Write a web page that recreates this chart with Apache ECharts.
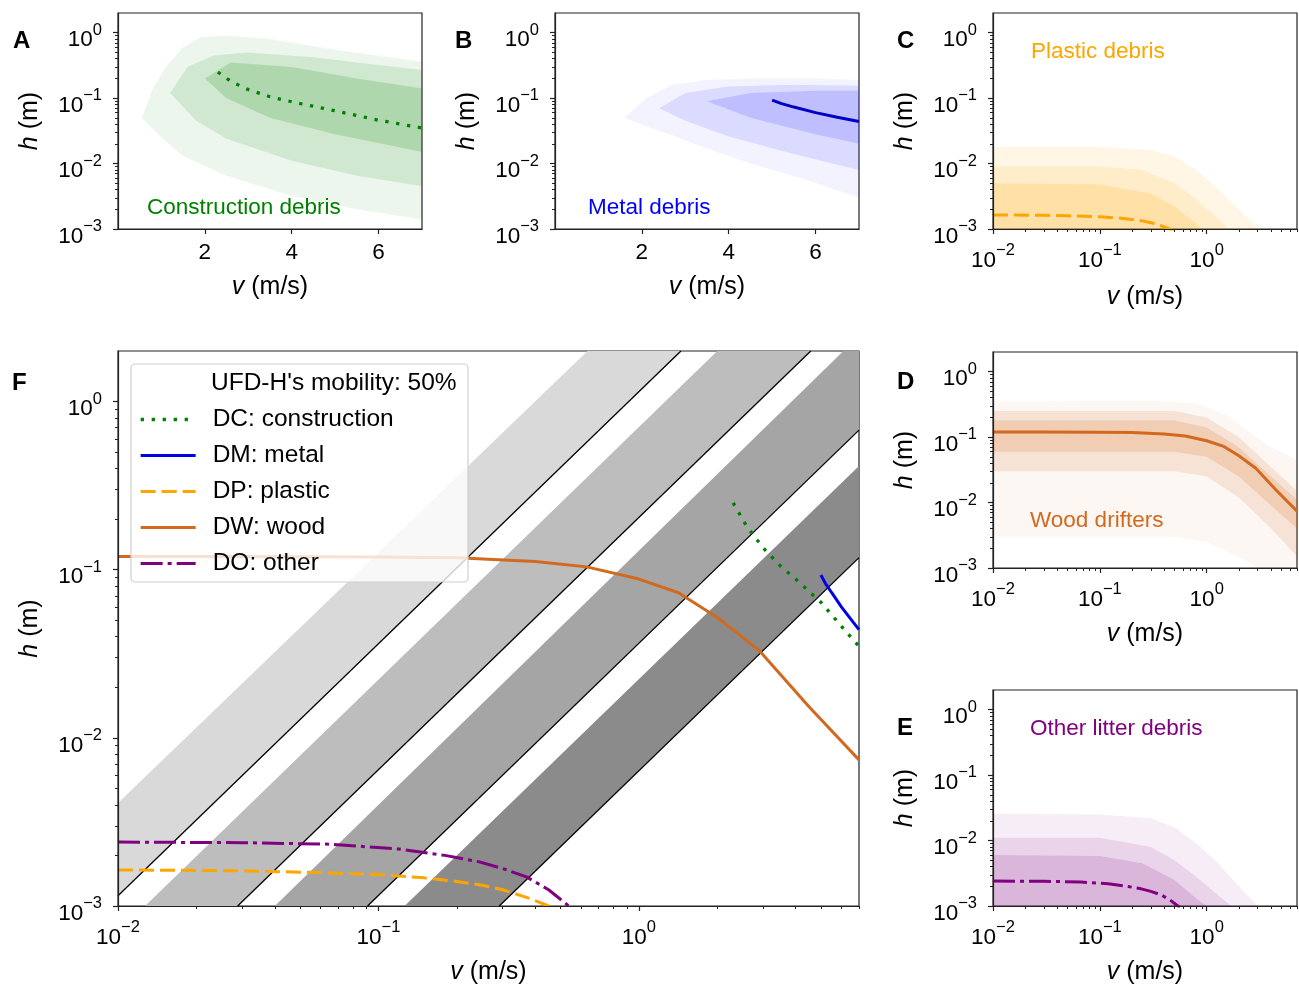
<!DOCTYPE html>
<html>
<head>
<meta charset="utf-8">
<script src="https://cdn.jsdelivr.net/npm/echarts@6.0.0/dist/echarts.min.js"></script>
<style>
  html, body { margin: 0; padding: 0; background: #fff; }
  #main { width: 1299px; height: 985px; }
</style>
</head>
<body>
<div id="main"></div>
<script>
const FONT = "'Liberation Sans', Arial, Helvetica, sans-serif";

// tick values
const logXMajor = [0.01, 0.1, 1];
const logXMinor = [0.02, 0.03, 0.04, 0.05, 0.06, 0.07, 0.08, 0.09,
  0.2, 0.3, 0.4, 0.5, 0.6, 0.7, 0.8, 0.9, 2, 3, 4, 5, 6, 7];
const logYMajor = [0.001, 0.01, 0.1, 1];
const logYMinor = [0.002, 0.003, 0.004, 0.005, 0.006, 0.007, 0.008, 0.009,
  0.02, 0.03, 0.04, 0.05, 0.06, 0.07, 0.08, 0.09,
  0.2, 0.3, 0.4, 0.5, 0.6, 0.7, 0.8, 0.9];
const linXMajor = [2, 4, 6];

// median curves [v (m/s), h (m)]
const dcCurve = [[2.3, 0.25], [2.6, 0.18], [3.0, 0.135], [3.5, 0.105], [4.0, 0.088],
  [5.0, 0.064], [6.0, 0.046], [7.0, 0.035]];
const dmCurve = [[5.0, 0.093], [5.2, 0.083], [5.5, 0.073], [6.0, 0.060], [6.5, 0.051], [7.0, 0.044]];
const dpCurve = [[0.01, 1.64e-3], [0.03, 1.62e-3], [0.05, 1.59e-3], [0.1, 1.54e-3], [0.15, 1.47e-3],
  [0.2, 1.4e-3], [0.25, 1.33e-3], [0.3, 1.25e-3], [0.38, 1.11e-3], [0.45, 1.0e-3], [0.5, 0.93e-3]];
const dwCurve = [[0.01, 0.12], [0.03, 0.12], [0.1, 0.119], [0.2, 0.118], [0.4, 0.112], [0.63, 0.104],
  [1.0, 0.088], [1.42, 0.073], [2.0, 0.052], [2.88, 0.0334], [4.5, 0.0153], [7.0, 0.0074]];
const doCurve = [[0.01, 2.4e-3], [0.03, 2.38e-3], [0.066, 2.33e-3], [0.12, 2.18e-3], [0.18, 2.0e-3],
  [0.244, 1.83e-3], [0.3, 1.67e-3], [0.37, 1.49e-3], [0.45, 1.25e-3], [0.53, 1.02e-3], [0.56, 0.95e-3]];

// ensemble envelopes per panel: [upper, lower] for outer, middle, core
const fanA = [
  [[[0.55, 0.05], [0.8, 0.14], [1.1, 0.3], [1.5, 0.6], [1.9, 0.85], [2.5, 0.9], [3.5, 0.8], [5, 0.55], [7, 0.36]],
   [[0.55, 0.05], [1.0, 0.025], [1.5, 0.013], [2.5, 0.0065], [4, 0.0032], [5.5, 0.002], [7, 0.0014]]],
  [[[1.2, 0.12], [1.6, 0.3], [2.2, 0.45], [3, 0.5], [4.5, 0.42], [6, 0.32], [7, 0.27]],
   [[1.2, 0.12], [1.8, 0.045], [2.5, 0.024], [4, 0.011], [5.5, 0.0065], [7, 0.0045]]],
  [[[2.0, 0.2], [2.6, 0.35], [4, 0.3], [5.5, 0.2], [7, 0.14]],
   [[2.0, 0.2], [2.5, 0.1], [3.5, 0.05], [5, 0.028], [7, 0.015]]]
];
const fanB = [
  [[[1.6, 0.05], [2.1, 0.1], [2.7, 0.16], [3.5, 0.19], [4.5, 0.2], [6, 0.2], [7, 0.19]],
   [[1.6, 0.05], [2.2, 0.035], [2.7, 0.027], [3.5, 0.017], [4.5, 0.01], [5.8, 0.0056], [7, 0.003]]],
  [[[2.4, 0.07], [3, 0.12], [4, 0.15], [5.5, 0.16], [7, 0.155]],
   [[2.4, 0.07], [3, 0.045], [4, 0.026], [5.5, 0.014], [7, 0.008]]],
  [[[3.5, 0.09], [4.5, 0.12], [6, 0.13], [7, 0.13]],
   [[3.5, 0.09], [4.5, 0.05], [6, 0.028], [7, 0.02]]]
];
const fanC = [
  [[[0.01, 0.018], [0.1, 0.018], [0.3, 0.016], [0.5, 0.013], [0.8, 0.008], [1.2, 0.0045], [2, 0.002], [3.1, 0.001]],
   [[0.01, 0.001], [3.1, 0.001]]],
  [[[0.01, 0.009], [0.1, 0.009], [0.25, 0.008], [0.5, 0.005], [0.8, 0.0028], [1.2, 0.0016], [1.6, 0.001]],
   [[0.01, 0.001], [1.6, 0.001]]],
  [[[0.01, 0.005], [0.1, 0.0048], [0.3, 0.0035], [0.5, 0.0022], [0.8, 0.0012], [0.9, 0.001]],
   [[0.01, 0.001], [0.9, 0.001]]]
];
const fanD = [
  [[[0.01, 0.35], [0.3, 0.36], [0.8, 0.33], [1.5, 0.22], [2.5, 0.12], [4, 0.07], [7, 0.045]],
   [[0.01, 0.003], [0.5, 0.003], [1, 0.0025], [2, 0.0015], [3, 0.001], [7, 0.001]]],
  [[[0.01, 0.25], [0.5, 0.25], [1, 0.2], [2, 0.1], [4, 0.035], [7, 0.015]],
   [[0.01, 0.03], [0.5, 0.03], [1, 0.025], [2, 0.012], [4, 0.004], [7, 0.0015]]],
  [[[0.01, 0.18], [0.5, 0.18], [1, 0.14], [2, 0.07], [4, 0.025], [7, 0.011]],
   [[0.01, 0.06], [0.5, 0.06], [1, 0.05], [2, 0.025], [4, 0.009], [7, 0.004]]]
];
const fanE = [
  [[[0.01, 0.026], [0.1, 0.025], [0.3, 0.022], [0.5, 0.016], [0.8, 0.009], [1.2, 0.005], [2, 0.002], [3, 0.001]],
   [[0.01, 0.001], [3, 0.001]]],
  [[[0.01, 0.011], [0.1, 0.011], [0.3, 0.008], [0.5, 0.005], [0.8, 0.0028], [1.2, 0.0016], [1.7, 0.001]],
   [[0.01, 0.001], [1.7, 0.001]]],
  [[[0.01, 0.006], [0.1, 0.0058], [0.25, 0.0045], [0.5, 0.0025], [0.8, 0.0013], [1.0, 0.001]],
   [[0.01, 0.001], [1.0, 0.001]]]
];

// panel F mobility bands (grey) and their black lower edges
const bandPolys = [
  [[0.01, 4.1e-3], [0.635, 2], [1.45, 2], [0.01, 1.15e-3]],
  [[0.0127, 1e-3], [2.0, 2], [4.57, 2], [0.0288, 1e-3]],
  [[0.040, 1e-3], [6.1, 2], [7, 2], [7, 0.677], [0.0908, 1e-3]],
  [[0.126, 1e-3], [7, 0.414], [7, 0.118], [0.291, 1e-3]]
];
const bandColors = ['#d9d9d9', '#bdbdbd', '#a5a5a5', '#8b8b8b'];
const bandLines = [
  [[0.01, 1.15e-3], [1.45, 2]],
  [[0.0288, 1e-3], [4.57, 2]],
  [[0.0908, 1e-3], [7, 0.677]],
  [[0.291, 1e-3], [7, 0.118]]
];

const COL = { dc: '#008000', dm: '#0000e6', dp: '#ffa500', dw: '#d2691e', do: '#800080' };

function pow10Label(v) {
  const e = Math.round(Math.log10(v));
  return '{b|10}{s|' + (e < 0 ? '\u2212' + (-e) : e) + '}';
}
const supRich = {
  b: { fontFamily: FONT, fontSize: 22.5, color: '#000', padding: [7, 0, 0, 0] },
  s: { fontFamily: FONT, fontSize: 16.5, color: '#000', verticalAlign: 'top' }
};
const nameStyle = {
  fontFamily: FONT, fontSize: 25, color: '#000',
  rich: { i: { fontFamily: FONT, fontSize: 25, fontStyle: 'italic', color: '#000' } }
};
const lineAx = { show: true, lineStyle: { color: '#222', width: 1.2 } };

const gridRects = [
  { left: 118, top: 13, width: 304, height: 216 },   // A
  { left: 555, top: 13, width: 304, height: 216 },   // B
  { left: 993, top: 13, width: 304, height: 216 },   // C
  { left: 993, top: 352, width: 304, height: 216 },  // D
  { left: 993, top: 690, width: 304, height: 216 },  // E
  { left: 118, top: 351, width: 741, height: 555 }   // F
];
const xGaps = [46, 46, 56, 54, 54, 54];

const grid = gridRects.map(r => Object.assign({
  show: true, borderColor: '#222', borderWidth: 1.2, backgroundColor: 'rgba(0,0,0,0)',
  containLabel: false, outerBoundsMode: 'none'
}, r));

const xAxis = [];
const yAxis = [];
gridRects.forEach((r, gi) => {
  const lin = gi < 2;
  xAxis.push({
    type: lin ? 'value' : 'log', logBase: 10, gridIndex: gi, position: 'bottom',
    min: lin ? 0 : 0.01, max: 7, z: 10,
    axisLine: lineAx, splitLine: { show: false },
    axisTick: { show: true, length: 5, lineStyle: { color: '#222', width: 1.2 },
      customValues: lin ? linXMajor : logXMajor },
    axisLabel: lin
      ? { customValues: linXMajor, fontFamily: FONT, fontSize: 22.5, color: '#000', margin: 12 }
      : { customValues: logXMajor, formatter: pow10Label, rich: supRich, margin: 13 },
    name: '{i|v} (m/s)', nameLocation: 'middle', nameGap: xGaps[gi],
    nameTextStyle: nameStyle, nameMoveOverlap: false
  });
  yAxis.push({
    type: 'log', logBase: 10, gridIndex: gi, position: 'left', min: 0.001, max: 2, z: 10,
    axisLine: lineAx, splitLine: { show: false },
    axisTick: { show: true, length: 5, lineStyle: { color: '#222', width: 1.2 }, customValues: logYMajor },
    axisLabel: { customValues: logYMajor, formatter: pow10Label, rich: supRich, margin: 16, padding: [8, 0, 0, 0] },
    name: '{i|h} (m)', nameLocation: 'middle', nameRotate: 90, nameGap: 75,
    nameTextStyle: nameStyle, nameMoveOverlap: false
  });
});
// minor tick axes
gridRects.forEach((r, gi) => {
  if (gi >= 2) {
    xAxis.push({
      type: 'log', logBase: 10, gridIndex: gi, position: 'bottom', min: 0.01, max: 7, z: 10,
      axisLine: { show: false }, splitLine: { show: false }, axisLabel: { show: false },
      axisTick: { show: true, length: 3, lineStyle: { color: '#222', width: 1 }, customValues: logXMinor }
    });
  }
  yAxis.push({
    type: 'log', logBase: 10, gridIndex: gi, position: 'left', min: 0.001, max: 2, z: 10,
    axisLine: { show: false }, splitLine: { show: false }, axisLabel: { show: false },
    axisTick: { show: true, length: 3, lineStyle: { color: '#222', width: 1 }, customValues: logYMinor }
  });
});

function polySeries(gi, pts, fill, z) {
  return {
    type: 'custom', xAxisIndex: gi, yAxisIndex: gi, data: pts, clip: true, silent: true, z: z,
    renderItem: function (params, api) {
      if (params.dataIndex !== 0) return null;
      return { type: 'polygon', shape: { points: pts.map(p => api.coord(p)) }, style: { fill: fill } };
    }
  };
}
function fanSeries(gi, fan, rgb, alphas) {
  return fan.map((f, k) => polySeries(gi, f[0].concat(f[1].slice().reverse()),
    'rgba(' + rgb + ',' + alphas[k] + ')', 1));
}
function curve(gi, name, data, color, width, type) {
  return {
    type: 'line', name: name, xAxisIndex: gi, yAxisIndex: gi, data: data,
    symbol: 'none', showSymbol: false, silent: true, clip: true, z: 4,
    lineStyle: { color: color, width: width, type: type }, itemStyle: { color: color }
  };
}
const DOTTED = [3.3, 7.7], DASHED = [15, 6], DASHDOT = [22, 5, 4, 5];

const series = [].concat(
  fanSeries(0, fanA, '0,128,0', [0.07, 0.12, 0.16]),
  [curve(0, 'A DC', dcCurve, COL.dc, 3.3, DOTTED)],
  fanSeries(1, fanB, '50,50,255', [0.06, 0.12, 0.16]),
  [curve(1, 'B DM', dmCurve, '#0000c8', 3, 'solid')],
  fanSeries(2, fanC, '255,165,0', [0.1, 0.12, 0.16]),
  [curve(2, 'C DP', dpCurve, COL.dp, 3, DASHED)],
  fanSeries(3, fanD, '210,105,30', [0.05, 0.14, 0.18]),
  [curve(3, 'D DW', dwCurve, COL.dw, 3, 'solid')],
  fanSeries(4, fanE, '128,0,128', [0.07, 0.1, 0.14]),
  [curve(4, 'E DO', doCurve, COL.do, 3, DASHDOT)],
  bandPolys.map((p, k) => polySeries(5, p, bandColors[k], 1)),
  bandLines.map(l => ({
    type: 'line', xAxisIndex: 5, yAxisIndex: 5, data: l, symbol: 'none', silent: true, z: 3,
    lineStyle: { color: '#000', width: 1.3 }
  })),
  [
    curve(5, 'DC: construction', dcCurve, COL.dc, 3.3, DOTTED),
    curve(5, 'DM: metal', dmCurve, COL.dm, 3, 'solid'),
    curve(5, 'DP: plastic', dpCurve, COL.dp, 3, DASHED),
    curve(5, 'DW: wood', dwCurve, COL.dw, 3, 'solid'),
    curve(5, 'DO: other', doCurve, COL.do, 3, DASHDOT)
  ]
);

function txt(x, y, s, size, color, bold) {
  return {
    type: 'text', x: x, y: y, z: 20, silent: true,
    style: { text: s, fontFamily: FONT, fontSize: size, fontWeight: bold ? 'bold' : 'normal',
      fill: color, textAlign: 'left', textVerticalAlign: 'middle' }
  };
}

const option = {
  animation: false,
  backgroundColor: '#fff',
  textStyle: { fontFamily: FONT },
  grid: grid,
  xAxis: xAxis,
  yAxis: yAxis,
  legend: {
    data: ['DC: construction', 'DM: metal', 'DP: plastic', 'DW: wood', 'DO: other'],
    orient: 'vertical', left: 139, top: 407, padding: 0,
    itemWidth: 55, itemHeight: 20, itemGap: 11, z: 15, selectedMode: false,
    itemStyle: { opacity: 0 },
    lineStyle: { width: 'inherit' },
    textStyle: { fontFamily: FONT, fontSize: 24.5, color: '#000', lineHeight: 24, padding: [0, 0, 0, 12] }
  },
  graphic: [
    {
      type: 'rect', z: 12, silent: true,
      shape: { x: 131, y: 364, width: 337, height: 218, r: 4 },
      style: { fill: 'rgba(255,255,255,0.8)', stroke: '#cfcfcf', lineWidth: 1.2 }
    },
    txt(211, 383, "UFD-H's mobility: 50%", 24.5, '#000'),
    txt(13, 41, 'A', 24, '#000', true),
    txt(455, 41, 'B', 24, '#000', true),
    txt(897, 41, 'C', 24, '#000', true),
    txt(12, 383, 'F', 24, '#000', true),
    txt(897, 382, 'D', 24, '#000', true),
    txt(897, 728, 'E', 24, '#000', true),
    txt(147, 208, 'Construction debris', 22.5, COL.dc),
    txt(588, 208, 'Metal debris', 22.5, '#0000ff'),
    txt(1031, 52, 'Plastic debris', 22.5, COL.dp),
    txt(1030, 521, 'Wood drifters', 22.5, COL.dw),
    txt(1030, 729, 'Other litter debris', 22.5, COL.do)
  ],
  series: series
};

const chart = echarts.init(document.getElementById('main'), null, { renderer: 'canvas' });
chart.setOption(option);
</script>
</body>
</html>
